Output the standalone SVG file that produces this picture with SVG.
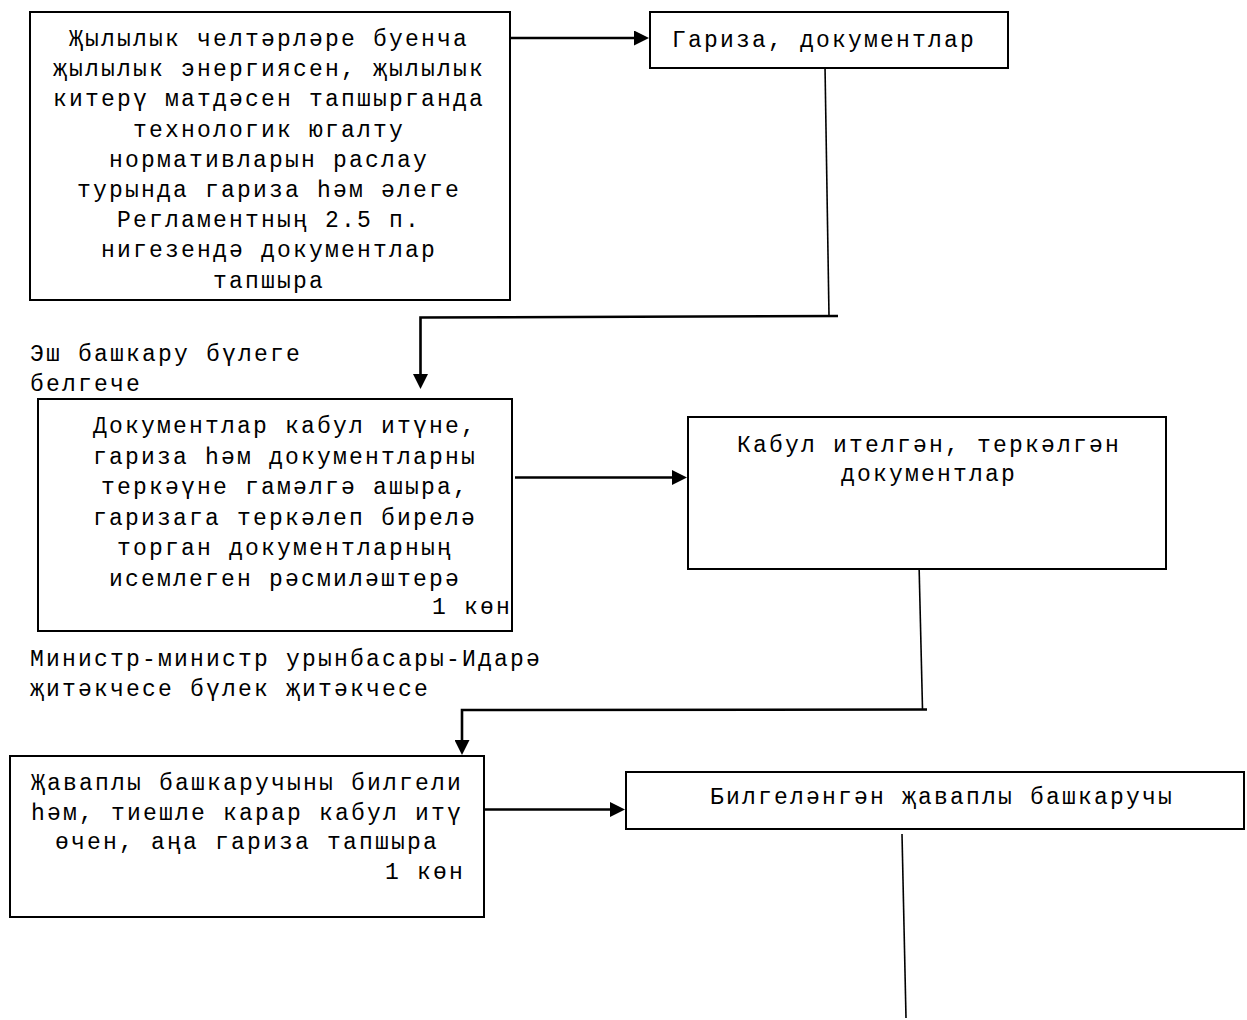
<svg xmlns="http://www.w3.org/2000/svg" width="1247" height="1020" viewBox="0 0 1247 1020">
<style>
.box{fill:#fff;stroke:#000;stroke-width:2}
.t{font-family:"Liberation Mono","DejaVu Sans Mono",monospace;font-size:23px;letter-spacing:2.2px;fill:#000}
.m{text-anchor:middle}
.e{text-anchor:end}
.thick{fill:none;stroke:#000;stroke-width:2.6}
.thin{fill:none;stroke:#000;stroke-width:1.6}
</style>
<defs>
<marker id="ah" markerUnits="userSpaceOnUse" markerWidth="16" markerHeight="15" refX="7" refY="7.5" orient="auto">
<path d="M0,0 L15,7.5 L0,15 z" fill="#000"/>
</marker>
</defs>
<rect width="1247" height="1020" fill="#fff"/>
<g id="connectors">
<line class="thick" x1="510" y1="38" x2="641" y2="38" marker-end="url(#ah)"/>
<line class="thin" x1="825" y1="66" x2="829" y2="316"/>
<polyline class="thick" points="838,316 420.5,317.5 420.5,381" marker-end="url(#ah)"/>
<line class="thick" x1="515" y1="477.5" x2="679" y2="477.5" marker-end="url(#ah)"/>
<line class="thin" x1="919" y1="563" x2="922.5" y2="709"/>
<polyline class="thick" points="927,709.5 462,710 462,747" marker-end="url(#ah)"/>
<line class="thick" x1="484" y1="809.5" x2="617" y2="809.5" marker-end="url(#ah)"/>
<line class="thin" x1="902" y1="834" x2="906" y2="1018"/>
</g>
<g id="n1">
<rect class="box" x="30" y="12" width="480" height="288"/>
<text class="t m" x="269" y="46">Җылылык челтәрләре буенча</text>
<text class="t m" x="269" y="76.2">җылылык энергиясен, җылылык</text>
<text class="t m" x="269" y="106.4">китерү матдәсен тапшырганда</text>
<text class="t m" x="269" y="136.6">технологик югалту</text>
<text class="t m" x="269" y="166.8">нормативларын раслау</text>
<text class="t m" x="269" y="197">турында гариза һәм әлеге</text>
<text class="t m" x="269" y="227.2">Регламентның 2.5 п.</text>
<text class="t m" x="269" y="257.4">нигезендә документлар</text>
<text class="t m" x="269" y="287.6">тапшыра</text>
</g>
<g id="n2">
<rect class="box" x="650" y="12" width="358" height="56"/>
<text class="t" x="672" y="47">Гариза, документлар</text>
</g>
<g id="lbl1">
<text class="t" x="30" y="361">Эш башкару бүлеге</text>
<text class="t" x="30" y="391">белгече</text>
</g>
<g id="n3">
<rect class="box" x="38" y="399" width="474" height="232"/>
<text class="t m" x="285" y="433">Документлар кабул итүне,</text>
<text class="t m" x="285" y="463.5">гариза һәм документларны</text>
<text class="t m" x="285" y="494">теркәүне гамәлгә ашыра,</text>
<text class="t m" x="285" y="524.5">гаризага теркәлеп бирелә</text>
<text class="t m" x="285" y="555">торган документларның</text>
<text class="t m" x="285" y="585.5">исемлеген рәсмиләштерә</text>
<text class="t e" x="512" y="614">1 көн</text>
</g>
<g id="n4">
<rect class="box" x="688" y="417" width="478" height="152"/>
<text class="t m" x="929" y="451.5">Кабул ителгән, теркәлгән</text>
<text class="t m" x="929" y="481">документлар</text>
</g>
<g id="lbl2">
<text class="t" x="30" y="666">Министр-министр урынбасары-Идарә</text>
<text class="t" x="30" y="696">җитәкчесе бүлек җитәкчесе</text>
</g>
<g id="n5">
<rect class="box" x="10" y="756" width="474" height="161"/>
<text class="t m" x="247" y="790">Җаваплы башкаручыны билгели</text>
<text class="t m" x="247" y="819.5">һәм, тиешле карар кабул итү</text>
<text class="t m" x="247" y="849">өчен, аңа гариза тапшыра</text>
<text class="t e" x="465" y="879">1 көн</text>
</g>
<g id="n6">
<rect class="box" x="626" y="772" width="618" height="57"/>
<text class="t" x="710" y="804">Билгеләнгән җаваплы башкаручы</text>
</g>
</svg>
